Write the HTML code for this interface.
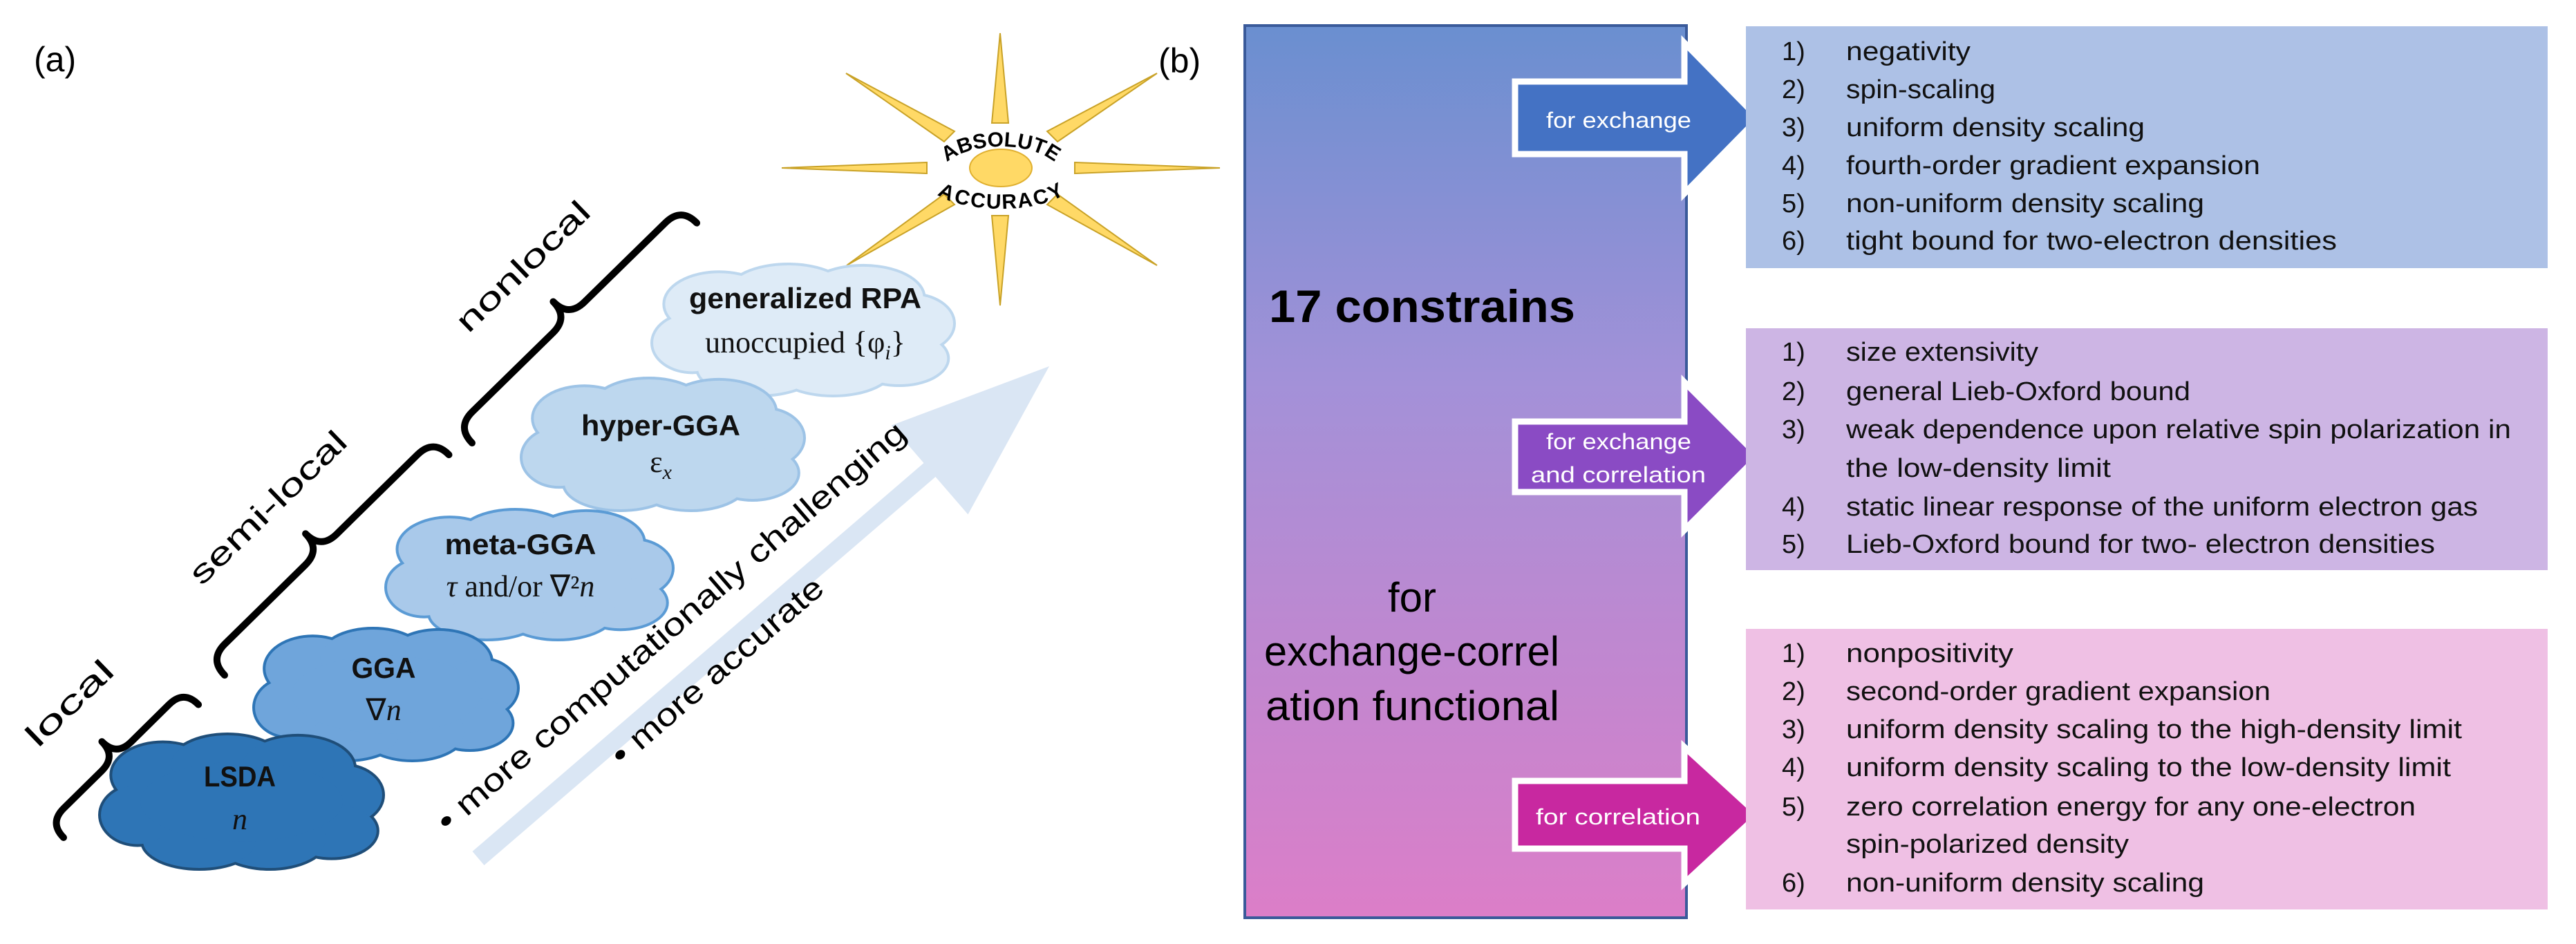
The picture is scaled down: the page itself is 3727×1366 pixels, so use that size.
<!DOCTYPE html>
<html><head><meta charset="utf-8"><style>
html,body{margin:0;padding:0;background:#fff;}
svg{display:block;}
</style></head><body>
<svg width="3727" height="1366" viewBox="0 0 3727 1366" xmlns="http://www.w3.org/2000/svg" font-family="'Liberation Sans', sans-serif">
<defs>
<linearGradient id="bg" x1="0" y1="0" x2="0" y2="1">
<stop offset="0" stop-color="#6a8fd0"/><stop offset="0.4" stop-color="#a391d8"/><stop offset="1" stop-color="#dc7ec8"/>
</linearGradient>
<g id="cl">
<ellipse vector-effect="non-scaling-stroke" cx="0.22" cy="0.3" rx="0.18" ry="0.24"/>
<ellipse vector-effect="non-scaling-stroke" cx="0.45" cy="0.22" rx="0.2" ry="0.22"/>
<ellipse vector-effect="non-scaling-stroke" cx="0.7" cy="0.25" rx="0.2" ry="0.24"/>
<ellipse vector-effect="non-scaling-stroke" cx="0.86" cy="0.45" rx="0.14" ry="0.22"/>
<ellipse vector-effect="non-scaling-stroke" cx="0.82" cy="0.72" rx="0.16" ry="0.2"/>
<ellipse vector-effect="non-scaling-stroke" cx="0.6" cy="0.78" rx="0.2" ry="0.22"/>
<ellipse vector-effect="non-scaling-stroke" cx="0.35" cy="0.8" rx="0.2" ry="0.2"/>
<ellipse vector-effect="non-scaling-stroke" cx="0.13" cy="0.6" rx="0.13" ry="0.22"/>
<ellipse vector-effect="non-scaling-stroke" cx="0.5" cy="0.5" rx="0.36" ry="0.3"/>
</g>
<path id="brS" d="M0,0 Q0,-30 30,-30 L107,-30 Q137,-30 137,-60 Q137,-30 167,-30 L244,-30 Q274,-30 274,0"/>
<path id="brL" d="M0,0 Q0,-32 32,-32 L195,-32 Q227,-32 227,-64 Q227,-32 259,-32 L423,-32 Q455,-32 455,0"/>
<path id="arcTop" d="M1358,258 A90 46 0 0 1 1538,258"/>
<path id="arcBot" d="M1358,250 A90 31 0 0 0 1538,250"/>
</defs>

<!-- panel (a) -->
<text x="49" y="103" font-size="50">(a)</text>

<!-- sun -->
<g fill="#ffd966" stroke="#c9a227" stroke-width="2">
<polygon points="1435,178 1447,48 1459,178"/>
<polygon points="1435,312 1447,442 1459,312"/>
<polygon points="1341,235 1131,243 1341,251"/>
<polygon points="1555,235 1765,243 1555,251"/>
<polygon points="1366,205 1224,106 1381,190"/>
<polygon points="1530,205 1674,106 1515,190"/>
<polygon points="1381,296 1225,384 1366,281"/>
<polygon points="1515,296 1674,384 1530,281"/>
<ellipse cx="1448" cy="243" rx="45" ry="27" stroke="#e0b030"/>
</g>
<text font-size="30" font-weight="bold"><textPath href="#arcTop" startOffset="50%" text-anchor="middle">ABSOLUTE</textPath></text>
<text font-size="30" font-weight="bold" dominant-baseline="hanging"><textPath href="#arcBot" startOffset="50%" text-anchor="middle">ACCURACY</textPath></text>

<!-- big arrow -->
<polygon points="683.5,1232 1336.5,670 1289.5,615.6 1518,530 1400.5,744.4 1353.5,690 700.5,1252" fill="#dae6f4"/>
<text transform="translate(648,1206) rotate(-40.8)" font-size="46" textLength="880" lengthAdjust="spacingAndGlyphs">• more computationally challenging</text>
<text transform="translate(900,1110) rotate(-40.8)" font-size="46" textLength="390" lengthAdjust="spacingAndGlyphs">• more accurate</text>

<!-- braces -->
<g fill="none" stroke="#000" stroke-width="10" stroke-linecap="round" stroke-linejoin="round">
<use href="#brS" transform="translate(92,1212) rotate(-44.6)"/>
<use href="#brL" transform="translate(325,977) rotate(-44.5)"/>
<use href="#brL" transform="translate(683,641) rotate(-44.4)"/>
</g>
<text transform="translate(103,1020) rotate(-44)" font-size="46" text-anchor="middle" dominant-baseline="middle" textLength="158" lengthAdjust="spacingAndGlyphs">local</text>
<text transform="translate(390,737) rotate(-44)" font-size="46" text-anchor="middle" dominant-baseline="middle" textLength="297" lengthAdjust="spacingAndGlyphs">semi-local</text>
<text transform="translate(759,388) rotate(-44)" font-size="46" text-anchor="middle" dominant-baseline="middle" textLength="250" lengthAdjust="spacingAndGlyphs">nonlocal</text>

<!-- clouds -->
<use href="#cl" transform="translate(945,384) scale(434,187)" fill="#bdd7ee" stroke="#bdd7ee" stroke-width="8"/>
<use href="#cl" transform="translate(945,384) scale(434,187)" fill="#deebf7" stroke="none"/>
<use href="#cl" transform="translate(756,549) scale(406,188)" fill="#9dc3e6" stroke="#9dc3e6" stroke-width="8"/>
<use href="#cl" transform="translate(756,549) scale(406,188)" fill="#bdd7ee" stroke="none"/>
<use href="#cl" transform="translate(560,739) scale(412,185)" fill="#5b9bd5" stroke="#5b9bd5" stroke-width="8"/>
<use href="#cl" transform="translate(560,739) scale(412,185)" fill="#a9c9ea" stroke="none"/>
<use href="#cl" transform="translate(369,911) scale(379,188)" fill="#2e75b6" stroke="#2e75b6" stroke-width="8"/>
<use href="#cl" transform="translate(369,911) scale(379,188)" fill="#6fa5db" stroke="none"/>
<use href="#cl" transform="translate(146,1064) scale(407,192)" fill="#1f4e79" stroke="#1f4e79" stroke-width="8"/>
<use href="#cl" transform="translate(146,1064) scale(407,192)" fill="#2e75b6" stroke="none"/>

<g font-weight="bold" font-size="42" text-anchor="middle" fill="#111">
<text x="1165" y="446" textLength="336" lengthAdjust="spacingAndGlyphs">generalized RPA</text>
<text x="956" y="630" textLength="230" lengthAdjust="spacingAndGlyphs">hyper-GGA</text>
<text x="753" y="802" textLength="219" lengthAdjust="spacingAndGlyphs">meta-GGA</text>
<text x="555" y="981" textLength="93" lengthAdjust="spacingAndGlyphs">GGA</text>
<text x="347" y="1138" textLength="104" lengthAdjust="spacingAndGlyphs">LSDA</text>
</g>
<g font-family="'Liberation Serif', serif" font-size="44" text-anchor="middle" fill="#111">
<text x="1165" y="510">unoccupied {φ<tspan font-style="italic" font-size="30" dy="10">i</tspan><tspan dy="-10">}</tspan></text>
<text x="956" y="683">ε<tspan font-style="italic" font-size="30" dy="10">x</tspan></text>
<text x="753" y="863"><tspan font-style="italic">τ</tspan> and/or ∇²<tspan font-style="italic">n</tspan></text>
<text x="555" y="1042">∇<tspan font-style="italic">n</tspan></text>
<text x="347" y="1200" font-style="italic">n</text>
</g>

<!-- panel (b) -->
<text x="1676" y="105" font-size="50">(b)</text>
<rect x="1801" y="37" width="639" height="1291" fill="url(#bg)" stroke="#3a5a9a" stroke-width="4"/>
<text x="1836" y="466" font-size="66" font-weight="bold" textLength="443" lengthAdjust="spacingAndGlyphs">17 constrains</text>
<text x="2043" y="885" font-size="60" text-anchor="middle">for</text>
<text x="1829" y="963" font-size="60" textLength="427" lengthAdjust="spacingAndGlyphs">exchange-correl</text>
<text x="1831" y="1042" font-size="60" textLength="425" lengthAdjust="spacingAndGlyphs">ation functional</text>

<g stroke="#fff" stroke-width="9" stroke-linejoin="miter">
<polygon points="2192,118 2437,118 2437,62 2544,171 2437,280 2437,223 2192,223" fill="#4472c4"/>
<polygon points="2192,610 2437,610 2437,553 2544,660 2437,767 2437,712 2192,712" fill="#8a4bc4"/>
<polygon points="2192,1130 2437,1130 2437,1081 2544,1179 2437,1278 2437,1228 2192,1228" fill="#c828a0"/>
</g>
<g fill="#fff" font-size="32">
<text x="2237" y="185" textLength="210" lengthAdjust="spacingAndGlyphs">for exchange</text>
<text x="2237" y="650" textLength="210" lengthAdjust="spacingAndGlyphs">for exchange</text>
<text x="2215" y="698" textLength="253" lengthAdjust="spacingAndGlyphs">and correlation</text>
<text x="2222" y="1193" textLength="238" lengthAdjust="spacingAndGlyphs">for correlation</text>
</g>

<rect x="2526" y="38" width="1160" height="350" fill="#adc1e6"/>
<rect x="2526" y="475" width="1160" height="350" fill="#cdb5e4"/>
<rect x="2526" y="910" width="1160" height="406" fill="#efc0e4"/>

<g font-size="38" fill="#111">
<text x="2578" y="87">1)</text><text x="2671" y="87" textLength="180" lengthAdjust="spacingAndGlyphs">negativity</text>
<text x="2578" y="142">2)</text><text x="2671" y="142" textLength="216" lengthAdjust="spacingAndGlyphs">spin-scaling</text>
<text x="2578" y="197">3)</text><text x="2671" y="197" textLength="432" lengthAdjust="spacingAndGlyphs">uniform density scaling</text>
<text x="2578" y="252">4)</text><text x="2671" y="252" textLength="599" lengthAdjust="spacingAndGlyphs">fourth-order gradient expansion</text>
<text x="2578" y="307">5)</text><text x="2671" y="307" textLength="518" lengthAdjust="spacingAndGlyphs">non-uniform density scaling</text>
<text x="2578" y="361">6)</text><text x="2671" y="361" textLength="710" lengthAdjust="spacingAndGlyphs">tight bound for two-electron densities</text>

<text x="2578" y="522">1)</text><text x="2671" y="522" textLength="278" lengthAdjust="spacingAndGlyphs">size extensivity</text>
<text x="2578" y="579">2)</text><text x="2671" y="579" textLength="498" lengthAdjust="spacingAndGlyphs">general Lieb-Oxford bound</text>
<text x="2578" y="634">3)</text><text x="2671" y="634" textLength="962" lengthAdjust="spacingAndGlyphs">weak dependence upon relative spin polarization in</text>
<text x="2671" y="690" textLength="383" lengthAdjust="spacingAndGlyphs">the low-density limit</text>
<text x="2578" y="746">4)</text><text x="2671" y="746" textLength="914" lengthAdjust="spacingAndGlyphs">static linear response of the uniform electron gas</text>
<text x="2578" y="800">5)</text><text x="2671" y="800" textLength="852" lengthAdjust="spacingAndGlyphs">Lieb-Oxford bound for two- electron densities</text>

<text x="2578" y="958">1)</text><text x="2671" y="958" textLength="242" lengthAdjust="spacingAndGlyphs">nonpositivity</text>
<text x="2578" y="1013">2)</text><text x="2671" y="1013" textLength="614" lengthAdjust="spacingAndGlyphs">second-order gradient expansion</text>
<text x="2578" y="1068">3)</text><text x="2671" y="1068" textLength="891" lengthAdjust="spacingAndGlyphs">uniform density scaling to the high-density limit</text>
<text x="2578" y="1123">4)</text><text x="2671" y="1123" textLength="875" lengthAdjust="spacingAndGlyphs">uniform density scaling to the low-density limit</text>
<text x="2578" y="1180">5)</text><text x="2671" y="1180" textLength="824" lengthAdjust="spacingAndGlyphs">zero correlation energy for any one-electron</text>
<text x="2671" y="1234" textLength="409" lengthAdjust="spacingAndGlyphs">spin-polarized density</text>
<text x="2578" y="1290">6)</text><text x="2671" y="1290" textLength="518" lengthAdjust="spacingAndGlyphs">non-uniform density scaling</text>
</g>
</svg>
</body></html>
